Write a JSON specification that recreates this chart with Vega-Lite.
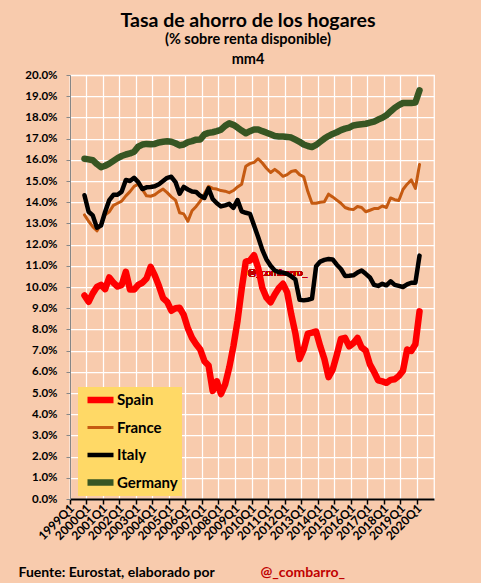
{
  "$schema": "https://vega.github.io/schema/vega-lite/v6.json",
  "autosize": {"type": "none"},
  "width": 364,
  "height": 424,
  "padding": {"left": 70, "top": 75, "right": 47, "bottom": 84},
  "background": "#F8CBAD",
  "title": {
    "text": "Tasa de ahorro de los hogares",
    "subtitle": ["(% sobre renta disponible)", "mm4"],
    "anchor": "middle",
    "frame": "group",
    "dx": -4,
    "offset": 2,
    "font": "Lato",
    "fontSize": 19.5,
    "fontWeight": "bold",
    "color": "#000000",
    "subtitleFont": "Lato",
    "subtitleFontSize": 14.5,
    "subtitleFontWeight": "bold",
    "subtitleColor": "#000000",
    "subtitleLineHeight": 20,
    "subtitlePadding": 1
  },
  "config": {
    "view": {"fill": null, "stroke": "#FFFFFF", "strokeWidth": 1.25},
    "font": "Lato",
    "axis": {
      "labelFont": "Lato",
      "labelFontWeight": "bold",
      "labelColor": "#000000",
      "gridColor": "#FFFFFF",
      "gridWidth": 1.25,
      "gridOpacity": 1
    },
    "legend": {
      "title": null,
      "orient": "none",
      "legendX": 8,
      "legendY": 312,
      "fillColor": "#FFD966",
      "padding": 4,
      "symbolType": "stroke",
      "symbolSize": 676,
      "symbolOffset": 2,
      "clipHeight": 18,
      "rowPadding": 9.5,
      "labelOffset": 0,
      "labelFont": "Lato",
      "labelFontSize": 15,
      "labelFontWeight": "bold",
      "labelColor": "#000000"
    }
  },
  "data": {
    "values": [
      {"q": "1999Q4", "Spain": 9.6, "France": 13.4, "Italy": 14.33, "Germany": 16.05},
      {"q": "2000Q1", "Spain": 9.3, "France": 13.1, "Italy": 13.55, "Germany": 16.02},
      {"q": "2000Q2", "Spain": 9.7, "France": 12.85, "Italy": 13.38, "Germany": 15.98},
      {"q": "2000Q3", "Spain": 10.0, "France": 12.65, "Italy": 12.8, "Germany": 15.8},
      {"q": "2000Q4", "Spain": 10.1, "France": 12.95, "Italy": 12.9, "Germany": 15.65},
      {"q": "2001Q1", "Spain": 9.9, "France": 13.4, "Italy": 13.55, "Germany": 15.72},
      {"q": "2001Q2", "Spain": 10.45, "France": 13.55, "Italy": 14.1, "Germany": 15.82},
      {"q": "2001Q3", "Spain": 10.2, "France": 13.85, "Italy": 14.35, "Germany": 15.95},
      {"q": "2001Q4", "Spain": 10.02, "France": 13.95, "Italy": 14.35, "Germany": 16.08},
      {"q": "2002Q1", "Spain": 10.1, "France": 14.05, "Italy": 14.5, "Germany": 16.18},
      {"q": "2002Q2", "Spain": 10.72, "France": 14.3, "Italy": 15.05, "Germany": 16.25},
      {"q": "2002Q3", "Spain": 9.88, "France": 14.5, "Italy": 15.0, "Germany": 16.3},
      {"q": "2002Q4", "Spain": 9.88, "France": 14.75, "Italy": 15.15, "Germany": 16.38},
      {"q": "2003Q1", "Spain": 10.1, "France": 14.85, "Italy": 14.95, "Germany": 16.62},
      {"q": "2003Q2", "Spain": 10.2, "France": 14.6, "Italy": 14.62, "Germany": 16.72},
      {"q": "2003Q3", "Spain": 10.4, "France": 14.3, "Italy": 14.7, "Germany": 16.75},
      {"q": "2003Q4", "Spain": 10.95, "France": 14.28, "Italy": 14.72, "Germany": 16.73},
      {"q": "2004Q1", "Spain": 10.55, "France": 14.35, "Italy": 14.75, "Germany": 16.75},
      {"q": "2004Q2", "Spain": 10.05, "France": 14.5, "Italy": 14.85, "Germany": 16.82},
      {"q": "2004Q3", "Spain": 9.48, "France": 14.62, "Italy": 15.0, "Germany": 16.85},
      {"q": "2004Q4", "Spain": 9.3, "France": 14.45, "Italy": 15.15, "Germany": 16.87},
      {"q": "2005Q1", "Spain": 8.88, "France": 14.25, "Italy": 15.2, "Germany": 16.85},
      {"q": "2005Q2", "Spain": 9.0, "France": 14.1, "Italy": 14.95, "Germany": 16.78},
      {"q": "2005Q3", "Spain": 9.02, "France": 13.5, "Italy": 14.4, "Germany": 16.68},
      {"q": "2005Q4", "Spain": 8.68, "France": 13.45, "Italy": 14.72, "Germany": 16.72},
      {"q": "2006Q1", "Spain": 8.05, "France": 13.1, "Italy": 14.6, "Germany": 16.83},
      {"q": "2006Q2", "Spain": 7.6, "France": 13.6, "Italy": 14.5, "Germany": 16.88},
      {"q": "2006Q3", "Spain": 7.3, "France": 13.8, "Italy": 14.48, "Germany": 16.95},
      {"q": "2006Q4", "Spain": 7.05, "France": 14.05, "Italy": 14.3, "Germany": 16.96},
      {"q": "2007Q1", "Spain": 6.5, "France": 14.4, "Italy": 14.2, "Germany": 17.2},
      {"q": "2007Q2", "Spain": 6.3, "France": 14.75, "Italy": 14.65, "Germany": 17.27},
      {"q": "2007Q3", "Spain": 5.1, "France": 14.65, "Italy": 14.15, "Germany": 17.3},
      {"q": "2007Q4", "Spain": 5.55, "France": 14.62, "Italy": 13.95, "Germany": 17.35},
      {"q": "2008Q1", "Spain": 4.95, "France": 14.55, "Italy": 13.8, "Germany": 17.42},
      {"q": "2008Q2", "Spain": 5.4, "France": 14.52, "Italy": 13.85, "Germany": 17.6},
      {"q": "2008Q3", "Spain": 6.2, "France": 14.45, "Italy": 13.92, "Germany": 17.72},
      {"q": "2008Q4", "Spain": 7.2, "France": 14.55, "Italy": 13.73, "Germany": 17.65},
      {"q": "2009Q1", "Spain": 8.4, "France": 14.72, "Italy": 14.1, "Germany": 17.52},
      {"q": "2009Q2", "Spain": 9.9, "France": 14.85, "Italy": 13.57, "Germany": 17.38},
      {"q": "2009Q3", "Spain": 11.2, "France": 15.7, "Italy": 13.5, "Germany": 17.25},
      {"q": "2009Q4", "Spain": 11.25, "France": 15.82, "Italy": 13.45, "Germany": 17.35},
      {"q": "2010Q1", "Spain": 11.5, "France": 15.88, "Italy": 12.9, "Germany": 17.43},
      {"q": "2010Q2", "Spain": 10.9, "France": 16.05, "Italy": 12.35, "Germany": 17.43},
      {"q": "2010Q3", "Spain": 9.95, "France": 15.85, "Italy": 11.75, "Germany": 17.35},
      {"q": "2010Q4", "Spain": 9.5, "France": 15.6, "Italy": 11.3, "Germany": 17.28},
      {"q": "2011Q1", "Spain": 9.28, "France": 15.4, "Italy": 11.0, "Germany": 17.2},
      {"q": "2011Q2", "Spain": 9.65, "France": 15.55, "Italy": 10.78, "Germany": 17.12},
      {"q": "2011Q3", "Spain": 9.95, "France": 15.4, "Italy": 10.7, "Germany": 17.1},
      {"q": "2011Q4", "Spain": 10.15, "France": 15.22, "Italy": 10.68, "Germany": 17.1},
      {"q": "2012Q1", "Spain": 9.75, "France": 15.3, "Italy": 10.62, "Germany": 17.08},
      {"q": "2012Q2", "Spain": 8.7, "France": 15.45, "Italy": 10.5, "Germany": 17.05},
      {"q": "2012Q3", "Spain": 7.8, "France": 15.5, "Italy": 10.35, "Germany": 16.95},
      {"q": "2012Q4", "Spain": 6.6, "France": 15.3, "Italy": 9.4, "Germany": 16.85},
      {"q": "2013Q1", "Spain": 7.05, "France": 15.2, "Italy": 9.37, "Germany": 16.72},
      {"q": "2013Q2", "Spain": 7.8, "France": 14.5, "Italy": 9.4, "Germany": 16.65},
      {"q": "2013Q3", "Spain": 7.85, "France": 13.95, "Italy": 9.45, "Germany": 16.6},
      {"q": "2013Q4", "Spain": 7.9, "France": 13.95, "Italy": 10.98, "Germany": 16.7},
      {"q": "2014Q1", "Spain": 7.2, "France": 14.0, "Italy": 11.2, "Germany": 16.85},
      {"q": "2014Q2", "Spain": 6.6, "France": 14.02, "Italy": 11.28, "Germany": 17.0},
      {"q": "2014Q3", "Spain": 5.75, "France": 14.38, "Italy": 11.32, "Germany": 17.12},
      {"q": "2014Q4", "Spain": 6.1, "France": 14.25, "Italy": 11.3, "Germany": 17.22},
      {"q": "2015Q1", "Spain": 6.8, "France": 14.1, "Italy": 11.05, "Germany": 17.3},
      {"q": "2015Q2", "Spain": 7.55, "France": 13.95, "Italy": 10.85, "Germany": 17.4},
      {"q": "2015Q3", "Spain": 7.6, "France": 13.75, "Italy": 10.52, "Germany": 17.47},
      {"q": "2015Q4", "Spain": 7.2, "France": 13.68, "Italy": 10.53, "Germany": 17.52},
      {"q": "2016Q1", "Spain": 7.35, "France": 13.65, "Italy": 10.55, "Germany": 17.62},
      {"q": "2016Q2", "Spain": 7.6, "France": 13.8, "Italy": 10.68, "Germany": 17.65},
      {"q": "2016Q3", "Spain": 7.15, "France": 13.75, "Italy": 10.78, "Germany": 17.68},
      {"q": "2016Q4", "Spain": 7.0, "France": 13.55, "Italy": 10.62, "Germany": 17.7},
      {"q": "2017Q1", "Spain": 6.35, "France": 13.62, "Italy": 10.45, "Germany": 17.75},
      {"q": "2017Q2", "Spain": 6.0, "France": 13.7, "Italy": 10.1, "Germany": 17.8},
      {"q": "2017Q3", "Spain": 5.6, "France": 13.7, "Italy": 10.05, "Germany": 17.9},
      {"q": "2017Q4", "Spain": 5.55, "France": 13.82, "Italy": 10.15, "Germany": 17.98},
      {"q": "2018Q1", "Spain": 5.48, "France": 13.75, "Italy": 10.08, "Germany": 18.1},
      {"q": "2018Q2", "Spain": 5.62, "France": 14.2, "Italy": 10.27, "Germany": 18.28},
      {"q": "2018Q3", "Spain": 5.65, "France": 14.12, "Italy": 10.1, "Germany": 18.45},
      {"q": "2018Q4", "Spain": 5.8, "France": 14.08, "Italy": 10.05, "Germany": 18.58},
      {"q": "2019Q1", "Spain": 6.05, "France": 14.6, "Italy": 10.0, "Germany": 18.68},
      {"q": "2019Q2", "Spain": 7.05, "France": 14.85, "Italy": 10.12, "Germany": 18.68},
      {"q": "2019Q3", "Spain": 6.98, "France": 15.05, "Italy": 10.2, "Germany": 18.68},
      {"q": "2019Q4", "Spain": 7.3, "France": 14.65, "Italy": 10.2, "Germany": 18.7},
      {"q": "2020Q1", "Spain": 8.85, "France": 15.78, "Italy": 11.48, "Germany": 19.28}
    ]
  },
  "transform": [
    {"fold": ["Spain", "France", "Italy", "Germany"], "as": ["country", "v"]}
  ],
  "encoding": {
    "x": {
      "field": "q",
      "type": "ordinal",
      "scale": {
        "type": "band",
        "paddingInner": 0,
        "paddingOuter": 0,
        "domain": [
          "1999Q1","1999Q2","1999Q3","1999Q4","2000Q1","2000Q2","2000Q3","2000Q4",
          "2001Q1","2001Q2","2001Q3","2001Q4","2002Q1","2002Q2","2002Q3","2002Q4",
          "2003Q1","2003Q2","2003Q3","2003Q4","2004Q1","2004Q2","2004Q3","2004Q4",
          "2005Q1","2005Q2","2005Q3","2005Q4","2006Q1","2006Q2","2006Q3","2006Q4",
          "2007Q1","2007Q2","2007Q3","2007Q4","2008Q1","2008Q2","2008Q3","2008Q4",
          "2009Q1","2009Q2","2009Q3","2009Q4","2010Q1","2010Q2","2010Q3","2010Q4",
          "2011Q1","2011Q2","2011Q3","2011Q4","2012Q1","2012Q2","2012Q3","2012Q4",
          "2013Q1","2013Q2","2013Q3","2013Q4","2014Q1","2014Q2","2014Q3","2014Q4",
          "2015Q1","2015Q2","2015Q3","2015Q4","2016Q1","2016Q2","2016Q3","2016Q4",
          "2017Q1","2017Q2","2017Q3","2017Q4","2018Q1","2018Q2","2018Q3","2018Q4",
          "2019Q1","2019Q2","2019Q3","2019Q4","2020Q1","2020Q2","2020Q3","2020Q4"
        ]
      },
      "axis": {
        "values": ["1999Q1","2000Q1","2001Q1","2002Q1","2003Q1","2004Q1","2005Q1","2006Q1","2007Q1","2008Q1","2009Q1","2010Q1","2011Q1","2012Q1","2013Q1","2014Q1","2015Q1","2016Q1","2017Q1","2018Q1","2019Q1","2020Q1"],
        "bandPosition": 0,
        "grid": true,
        "labelAngle": -45,
        "labelAlign": "right",
        "labelBaseline": "middle",
        "labelFontSize": 12,
        "labelPadding": 2,
        "tickColor": "#000000",
        "tickWidth": 1.5,
        "tickSize": 5,
        "domainColor": "#000000",
        "domainWidth": 2,
        "title": "Fuente: Eurostat, elaborado por",
        "titleFont": "Lato",
        "titleFontSize": 14,
        "titleFontWeight": "bold",
        "titleColor": "#000000",
        "titleAngle": 0,
        "titleAlign": "left",
        "titleBaseline": "alphabetic",
        "titleX": -52,
        "titleY": 77
      }
    },
    "y": {
      "field": "v",
      "type": "quantitative",
      "scale": {"domain": [0, 20], "nice": false, "zero": true},
      "axis": {
        "values": [0,1,2,3,4,5,6,7,8,9,10,11,12,13,14,15,16,17,18,19,20],
        "labelExpr": "format(datum.value, '.1f') + '%'",
        "grid": true,
        "labelFontSize": 11.5,
        "labelPadding": 9,
        "tickColor": "#868686",
        "tickSize": 4,
        "domainColor": "#868686",
        "domainWidth": 1,
        "title": "@_combarro_",
        "titleFont": "Lato",
        "titleFontSize": 14,
        "titleFontWeight": "bold",
        "titleColor": "#C00000",
        "titleAngle": 0,
        "titleAlign": "left",
        "titleBaseline": "alphabetic",
        "titleX": 190,
        "titleY": 501
      }
    }
  },
  "layer": [
    {
      "mark": {"type": "text", "align": "left", "baseline": "middle", "fontSize": 10, "color": "#C00000", "opacity": 0.85, "dx": 2},
      "encoding": {
        "x": {"datum": "2009Q3"},
        "y": {"datum": 10.65},
        "text": {"value": "@_combarro_"}
      }
    },
    {
      "mark": {"type": "line", "strokeCap": "round", "strokeJoin": "round"},
      "encoding": {
        "color": {
          "field": "country",
          "type": "nominal",
          "sort": ["Spain", "France", "Italy", "Germany"],
          "scale": {"domain": ["Spain", "France", "Italy", "Germany"], "range": ["#FF0000", "#C55A11", "#000000", "#375623"]}
        },
        "strokeWidth": {
          "field": "country",
          "type": "nominal",
          "sort": ["Spain", "France", "Italy", "Germany"],
          "scale": {"type": "ordinal", "domain": ["Spain", "France", "Italy", "Germany"], "range": [6.5, 3, 4.5, 6.5]}
        }
      }
    }
  ]
}
